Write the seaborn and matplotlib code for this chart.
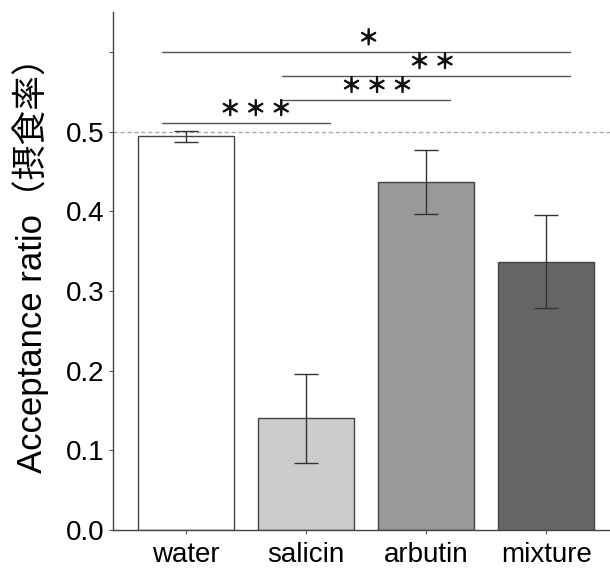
import matplotlib
matplotlib.use("Agg")
import matplotlib.pyplot as plt
import matplotlib.patheffects as pe
import seaborn as sns
import pandas as pd

categories = ["water", "salicin", "arbutin", "mixture"]
means = [0.494, 0.140, 0.437, 0.337]
errors = [0.007, 0.056, 0.040, 0.058]
bar_colors = ["#ffffff", "#cccccc", "#999999", "#666666"]
y_ticks = [0.0, 0.1, 0.2, 0.3, 0.4, 0.5, 0.6]
y_ticklabels = ["0.0", "0.1", "0.2", "0.3", "0.4", "0.5", ""]
# significance brackets: (start group, end group, height, label, label x)
sig_start = [0, 1, 1, 0]
sig_end = [1, 2, 3, 3]
sig_y = [0.511, 0.540, 0.570, 0.600]
sig_labels = ["＊ ＊ ＊", "＊ ＊ ＊", "＊ ＊", "＊"]
sig_label_x = [0.58, 1.59, 2.05, 1.52]
ref_line = 0.5

sns.set_theme(style="ticks")
plt.rcParams["font.family"] = ["Liberation Sans", "Noto Sans CJK JP", "DejaVu Sans"]

df = pd.DataFrame({"group": categories, "ratio": means})

fig = plt.figure(figsize=(6.1, 5.74), dpi=100)
ax = fig.add_axes([0.185, 0.0767, 0.815, 0.902])

sns.barplot(data=df, x="group", y="ratio", hue="group", palette=bar_colors,
            order=categories, hue_order=categories, legend=False,
            edgecolor="#444444", linewidth=1.0, width=0.8, errorbar=None, ax=ax)

ax.errorbar(x=list(range(len(categories))), y=means, yerr=errors, fmt="none",
            ecolor="#333333", elinewidth=1.0, capsize=8.5, capthick=1.0, zorder=5)

ax.axhline(ref_line, color="#aaaaaa", linestyle=(0, (3, 2)), linewidth=1.0, zorder=0)

for s, e, y, lab, lx in zip(sig_start, sig_end, sig_y, sig_labels, sig_label_x):
    ax.plot([s - 0.2, e + 0.2], [y, y], color="#555555", linewidth=1.0)
    ax.text(lx, y + 0.003, lab, ha="center", va="bottom", fontsize=15,
            family=["Noto Sans CJK JP", "DejaVu Sans"], color="#111111",
            path_effects=[pe.withStroke(linewidth=0.8, foreground="#111111")])

ax.set_xlim(-0.61, 3.53)
ax.set_ylim(0, 0.65)
ax.set_yticks(y_ticks)
ax.set_yticklabels(y_ticklabels)
ax.set_xlabel("")
ax.set_ylabel("Acceptance ratio（摂食率）", fontsize=25, color="black")
ax.yaxis.set_label_coords(-0.128, 0.528)
ax.tick_params(axis="both", labelsize=20, length=3, width=0.8, color="#555555",
               labelcolor="black")
ax.tick_params(axis="y", pad=3)
ax.tick_params(axis="x", pad=6)
for side in ["top", "right"]:
    ax.spines[side].set_visible(False)
for side in ["left", "bottom"]:
    ax.spines[side].set_color("#444444")
    ax.spines[side].set_linewidth(1.0)

fig.savefig("out.png", dpi=100)
